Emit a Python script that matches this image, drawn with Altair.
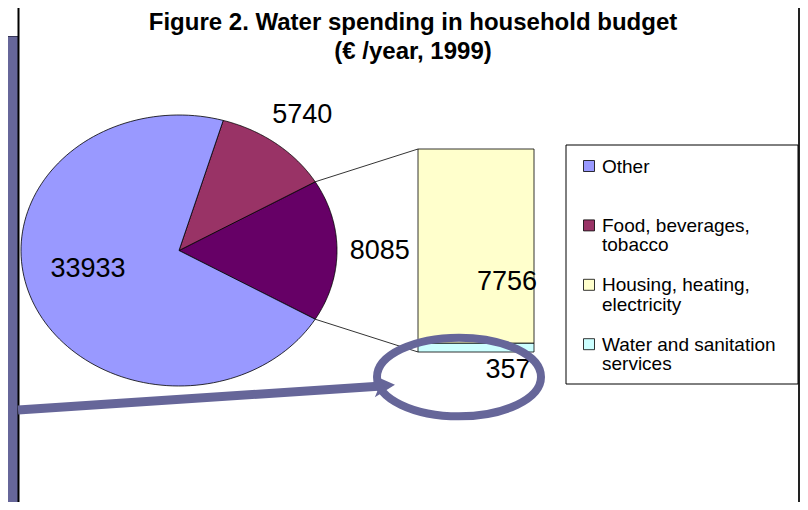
import altair as alt
import pandas as pd

# ---------------- data ----------------
pie_categories = ["Housing, heating, electricity and water", "Food, beverages, tobacco", "Other"]
pie_values = [8085, 5740, 33933]
bar_categories = ["Water and sanitation services", "Housing, heating, electricity"]
bar_values = [357, 7756]
legend_categories = ["Other", "Food, beverages, tobacco", "Housing, heating, electricity",
                     "Water and sanitation services"]
legend_labels = ["Other", "Food, beverages,\ntobacco", "Housing, heating,\nelectricity",
                 "Water and sanitation\nservices"]
title_lines = ["Figure 2. Water spending in household budget", "(€ /year, 1999)"]

color_domain = ["Other", "Food, beverages, tobacco", "Housing, heating, electricity and water",
                "Housing, heating, electricity", "Water and sanitation services"]
color_range = ["#9999FF", "#993366", "#660066", "#FFFFCC", "#CCFFFF"]

# ---------------- layout (reference pixel coordinates) ----------------
FONT = "Liberation Sans"
PURPLE = "#666699"
CX, CY, RX, RY = 179, 250.5, 158, 135.5
BAR_X0, BAR_X1, BAR_TOP, BAR_BOTTOM = 418, 534, 149, 352
bar_label_x = [508, 507]
bar_label_y = [370, 282]
N = 120

PX = alt.Scale(domain=[8, 800], range=[0, 792], nice=False, zero=False)
PY = alt.Scale(domain=[8, 502], range=[0, 494], nice=False, zero=False)
COLS = alt.Scale(domain=color_domain, range=color_range)

one = pd.DataFrame({"a": [0]})


def X(v):
    return alt.X(datum=v, scale=PX, axis=None)


def Y(v):
    return alt.Y(datum=v, scale=PY, axis=None)


# left decorative band
band = alt.Chart(one).mark_rect(color=PURPLE).encode(x=X(8), x2=alt.X2(datum=18), y=Y(37), y2=alt.Y2(datum=502))
band_top = alt.Chart(one).mark_rule(color="#333355", strokeWidth=1).encode(x=X(8), x2=alt.X2(datum=18), y=Y(36.5))
left_line = alt.Chart(one).mark_rule(color="black", strokeWidth=2).encode(x=X(18.5), y=Y(8), y2=alt.Y2(datum=502))
right_line = alt.Chart(one).mark_rule(color="#222222", strokeWidth=2).encode(x=X(799), y=Y(8), y2=alt.Y2(datum=502))

# title
title_df = pd.DataFrame({"t": title_lines, "row": [0, 1]})
title = alt.Chart(title_df).transform_calculate(ty="30 + 28.5*datum.row").mark_text(
    font=FONT, fontSize=24, fontWeight="bold", align="center", baseline="alphabetic", color="black"
).encode(x=X(413), y=alt.Y("ty:Q", scale=PY, axis=None), text="t:N")

# pie (elliptical) built from values
pie_df = pd.DataFrame({"cat": pie_categories, "value": pie_values, "ord": [0, 1, 2]})
pie_base = alt.Chart(pie_df).transform_window(
    cum="sum(value)", sort=[alt.SortField("ord")], frame=[None, 0]
).transform_joinaggregate(total="sum(value)").transform_calculate(
    firstv="datum.ord == 0 ? datum.value : 0"
).transform_joinaggregate(firstsum="sum(firstv)").transform_calculate(
    a0="2*PI*(datum.cum - datum.value)/datum.total - PI*datum.firstsum/datum.total",
    a1="2*PI*datum.cum/datum.total - PI*datum.firstsum/datum.total",
)

pie = pie_base.transform_calculate(k=f"sequence(0, {N + 3})").transform_flatten(["k"]).transform_calculate(
    t=f"datum.a0 + (datum.a1 - datum.a0) * (datum.k - 1) / {N}",
    edge=f"datum.k == 0 || datum.k == {N + 2}",
).transform_calculate(
    px=f"datum.edge ? {CX} : {CX} + {RX}*cos(datum.t)",
    py=f"datum.edge ? {CY} : {CY} - {RY}*sin(datum.t)",
).mark_line(filled=True, stroke="black", strokeWidth=0.8, strokeJoin="round").encode(
    x=alt.X("px:Q", scale=PX, axis=None),
    y=alt.Y("py:Q", scale=PY, axis=None),
    color=alt.Color("cat:N", scale=COLS, legend=None),
    order=alt.Order("k:Q"),
)

leaders = pie_base.transform_filter("datum.ord == 0").transform_calculate(
    side="sequence(0, 2)"
).transform_flatten(["side"]).transform_calculate(
    ang="datum.side == 0 ? datum.a0 : datum.a1"
).transform_calculate(
    lx=f"{CX} + {RX}*cos(datum.ang)",
    ly=f"{CY} - {RY}*sin(datum.ang)",
    bx=f"{BAR_X0}",
    by=f"datum.side == 0 ? {BAR_BOTTOM} : {BAR_TOP}",
).mark_rule(color="black", strokeWidth=0.8).encode(
    x=alt.X("lx:Q", scale=PX, axis=None), y=alt.Y("ly:Q", scale=PY, axis=None),
    x2="bx:Q", y2="by:Q",
)

pie_labels = pie_base.transform_calculate(
    mid="(datum.a0 + datum.a1)/2",
    fx="datum.ord == 2 ? 0.62 : 1.27",
    fy="datum.ord == 2 ? 0.37 : 1.27",
).transform_calculate(
    lx=f"{CX} + datum.fx*{RX}*cos(datum.mid)",
    ly=f"{CY} - datum.fy*{RY}*sin(datum.mid)",
).mark_text(font=FONT, fontSize=27, align="center", baseline="middle", color="black").encode(
    x=alt.X("lx:Q", scale=PX, axis=None), y=alt.Y("ly:Q", scale=PY, axis=None),
    text=alt.Text("value:Q", format="d"),
)

# stacked bar
bar_df = pd.DataFrame({"cat": bar_categories, "value": bar_values, "ord": [0, 1]})
BARY = alt.Scale(domain=[0, sum(bar_values)], range=[BAR_BOTTOM - 8, BAR_TOP - 8], nice=False, zero=False)
bar = alt.Chart(bar_df).transform_window(
    cum="sum(value)", sort=[alt.SortField("ord")], frame=[None, 0]
).transform_calculate(start="datum.cum - datum.value").mark_rect(stroke="black", strokeWidth=0.8).encode(
    x=X(BAR_X0), x2=alt.X2(datum=BAR_X1),
    y=alt.Y("cum:Q", scale=BARY, axis=None), y2="start:Q",
    color=alt.Color("cat:N", scale=COLS, legend=None),
)

bar_lab_df = pd.DataFrame({"value": bar_values, "lx": bar_label_x, "ly": bar_label_y})
bar_labels = alt.Chart(bar_lab_df).mark_text(font=FONT, fontSize=27, align="center", baseline="middle",
                                              color="black").encode(
    x=alt.X("lx:Q", scale=PX, axis=None), y=alt.Y("ly:Q", scale=PY, axis=None),
    text=alt.Text("value:Q", format="d"),
)

# legend
legend_box = alt.Chart(one).mark_rect(fill="white", stroke="black", strokeWidth=1).encode(
    x=X(566), x2=alt.X2(datum=798), y=Y(145), y2=alt.Y2(datum=384))
leg_df = pd.DataFrame({"cat": legend_categories, "label": legend_labels, "row": [0, 1, 2, 3]})
leg_base = alt.Chart(leg_df).transform_calculate(ypos="166 + 59.4*datum.row").transform_calculate(
    ybase="datum.ypos + 6.5")
leg_sq = leg_base.mark_square(size=121, stroke="black", strokeWidth=0.8, opacity=1).encode(
    x=X(589), y=alt.Y("ypos:Q", scale=PY, axis=None), color=alt.Color("cat:N", scale=COLS, legend=None))
leg_tx = leg_base.mark_text(font=FONT, fontSize=19, align="left", baseline="alphabetic", lineBreak="\n",
                            lineHeight=19.5, color="black").encode(
    x=X(602), y=alt.Y("ybase:Q", scale=PY, axis=None), text="label:N")

# annotation arrow + ellipse
arrow_line = alt.Chart(one).mark_rule(color=PURPLE, strokeWidth=9, strokeCap="butt").encode(
    x=X(18), y=Y(410), x2=alt.X2(datum=382), y2=alt.Y2(datum=386))
arrow_head = alt.Chart(one).mark_point(shape="M1,0L-0.9,-1L-0.4,0L-0.9,1Z", size=484, filled=True,
                                       color=PURPLE, opacity=1, angle=356.2).encode(x=X(384), y=Y(385.5))
ellipse = alt.Chart(one).mark_point(shape="M-1,0A1,0.48,0,1,0,1,0A1,0.48,0,1,0,-1,0Z", size=164 * 164,
                                    filled=False, color=PURPLE, strokeWidth=8, opacity=1).encode(
    x=X(459), y=Y(377))

chart = alt.layer(
    band, band_top, left_line, right_line, title, pie, leaders, bar, pie_labels, bar_labels,
    legend_box, leg_sq, leg_tx, arrow_line, arrow_head, ellipse,
).resolve_scale(y="independent").properties(
    width=792, height=494, autosize=alt.AutoSizeParams(type="none"), padding=0
).configure_view(strokeWidth=0)

chart.save("out.html", embed_options={"renderer": "svg", "actions": False})
